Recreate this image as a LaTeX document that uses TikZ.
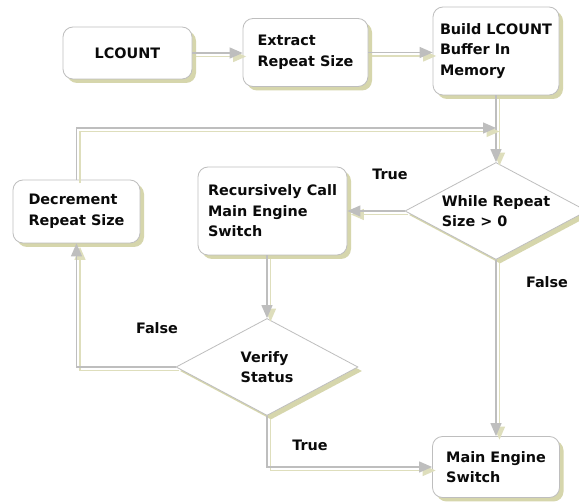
\documentclass[tikz,border=0pt]{standalone}
\usepackage{fontspec}
\setmainfont{DejaVu Sans}
\usetikzlibrary{shapes.geometric,arrows.meta,shadows}
\definecolor{bordc}{RGB}{190,190,190}
\definecolor{shadc}{RGB}{214,214,172}
\definecolor{linec}{RGB}{190,190,190}
\definecolor{lshadc}{RGB}{222,222,188}
\definecolor{txtc}{RGB}{10,10,10}
\begin{document}
\begin{tikzpicture}[x=1pt,y=-1pt,
  txt/.style={font=\fontsize{14.4pt}{20.5pt}\selectfont\bfseries, text=txtc},
  box/.style={txt, draw=bordc, line width=0.8pt, fill=white, rounded corners=10pt,
    drop shadow={shadow xshift=4pt, shadow yshift=-4pt, fill=shadc, opacity=1},
    align=left, inner sep=0pt},
  dia/.style={txt, diamond, draw=bordc, line width=0.8pt, fill=white, aspect=1.86,
    inner sep=0pt, minimum width=182pt, minimum height=97pt, align=left,
    drop shadow={shadow xshift=4pt, shadow yshift=-4pt, fill=shadc, opacity=1}},
  conn/.style={draw=linec, line width=1.2pt, -{Triangle[length=13pt,width=11pt]},
    preaction={draw=lshadc, line width=1.2pt, transform canvas={xshift=3.5pt,yshift=-3.5pt}}},
  lbl/.style={txt}]
\fill[white] (0,0) rectangle (579,502);
\useasboundingbox (0,0) rectangle (579,502);

\node[box, minimum width=129pt, minimum height=52pt] (lc) at (127.5,53) {LCOUNT};
\node[box, minimum width=125pt, minimum height=68pt] (ex) at (305.5,52.5) {Extract\\Repeat Size};
\node[box, minimum width=126pt, minimum height=88pt] (bu) at (496,51) {Build LCOUNT\\Buffer In\\Memory};
\node[dia] (wh) at (496,211) {While Repeat\\Size > 0};
\node[box, minimum width=149pt, minimum height=88pt] (rc) at (272.5,211) {Recursively Call\\Main Engine\\Switch};
\node[box, minimum width=127pt, minimum height=63pt] (de) at (76.5,211.5) {Decrement\\Repeat Size};
\node[dia] (ve) at (267,367) {Verify\\Status};
\node[box, minimum width=127pt, minimum height=61pt] (me) at (496,467) {Main Engine\\Switch};

\coordinate (jn) at (496,128);

\draw[conn] (lc.east) -- (lc.east -| ex.west);
\draw[conn] (ex.east) -- (ex.east -| bu.west);
\draw[conn] (bu.south) -- (wh.north);
\draw[conn] (de.north) |- (jn);
\draw[conn] (wh.west) -- (rc.east);
\draw[conn] (rc.south -| ve.north) -- (ve.north);
\draw[conn] (ve.west) -| (de.south);
\draw[conn] (ve.south) |- (me.west);
\draw[conn] (wh.south) -- (me.north);

\node[lbl] (t1) at (390,174) {True};
\node[lbl] (f1) at (547,282) {False};
\node[lbl] (f2) at (157,328) {False};
\node[lbl] (t2) at (310,445) {True};
\end{tikzpicture}
\end{document}
